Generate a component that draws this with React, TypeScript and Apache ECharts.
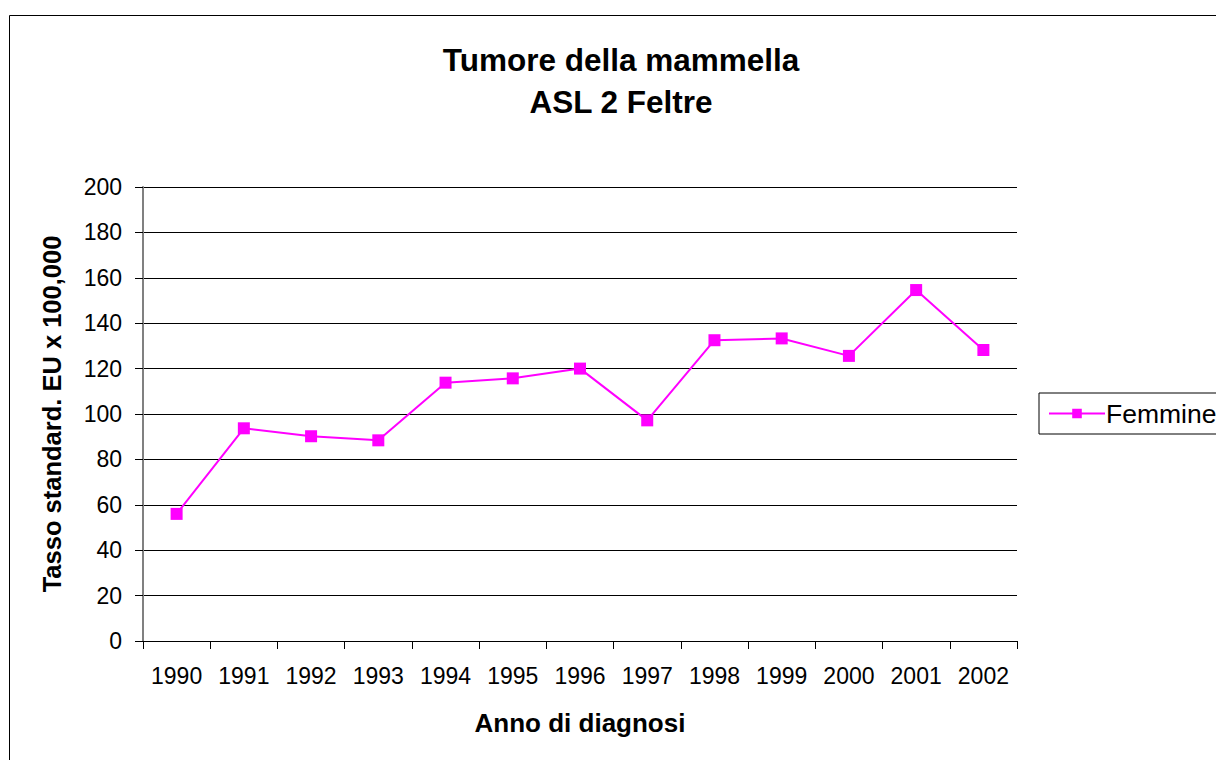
import React, { useEffect, useRef } from "react";
import * as echarts from "echarts";

const years = ["1990", "1991", "1992", "1993", "1994", "1995", "1996", "1997", "1998", "1999", "2000", "2001", "2002"];
const femmine = [56, 93.7, 90.2, 88.4, 113.8, 115.7, 120, 97.2, 132.5, 133.3, 125.6, 154.6, 128.2];
const titleLines = ["Tumore della mammella", "ASL 2 Feltre"];
const seriesName = "Femmine";
const yAxisName = "Tasso standard. EU x 100,000";
const xAxisName = "Anno di diagnosi";

const FONT = "Arial, 'Liberation Sans', sans-serif";

export default function App() {
  const ref = useRef<HTMLDivElement>(null);
  useEffect(() => {
    if (!ref.current) return;
    const chart = echarts.init(ref.current, null, { renderer: "svg" });
    chart.setOption({
      animation: false,
      backgroundColor: "#ffffff",
      textStyle: { fontFamily: FONT },
      title: {
        text: titleLines.join("\n"),
        left: 616,
        top: 34,
        textAlign: "center",
        textStyle: { fontFamily: FONT, fontSize: 31.5, fontWeight: "bold", color: "#000", lineHeight: 42 },
      },
      graphic: [
        {
          type: "rect",
          shape: { x: 9.5, y: 15.5, width: 1230, height: 780 },
          style: { fill: "none", stroke: "#000", lineWidth: 1 },
          silent: true,
        },
      ],
      legend: {
        left: 1039,
        top: 393,
        orient: "vertical",
        itemWidth: 56,
        itemHeight: 12,
        itemGap: 0,
        padding: [7, 40, 7, 9],
        borderColor: "#000",
        borderWidth: 1,
        textStyle: { fontFamily: FONT, fontSize: 26.5, color: "#000", padding: [0, 0, 0, -4] },
        data: [{ name: seriesName }],
      },
      grid: { left: 143, right: 199, top: 187, bottom: 119, containLabel: false },
      xAxis: {
        type: "category",
        data: years,
        boundaryGap: true,
        name: xAxisName,
        nameLocation: "middle",
        nameGap: 69,
        nameTextStyle: { fontFamily: FONT, fontSize: 26, fontWeight: "bold", color: "#000" },
        axisLine: { lineStyle: { color: "#000", width: 1 } },
        axisTick: { show: true, length: 8, lineStyle: { color: "#000" }, alignWithLabel: false },
        axisLabel: { fontFamily: FONT, fontSize: 23, color: "#000", margin: 23 },
        splitLine: { show: false },
      },
      yAxis: {
        type: "value",
        min: 0,
        max: 200,
        interval: 20,
        name: yAxisName,
        nameLocation: "middle",
        nameGap: 78,
        nameRotate: 90,
        nameTextStyle: { fontFamily: FONT, fontSize: 25.5, fontWeight: "bold", color: "#000" },
        axisLine: { show: true, lineStyle: { color: "#808080", width: 2 } },
        axisTick: { show: true, length: 8, lineStyle: { color: "#000" } },
        axisLabel: { fontFamily: FONT, fontSize: 23, color: "#000", margin: 21 },
        splitLine: { show: true, lineStyle: { color: "#000", width: 1 } },
      },
      series: [
        {
          name: seriesName,
          type: "line",
          data: femmine,
          symbol: "rect",
          symbolSize: 12,
          itemStyle: { color: "#FF00FF" },
          lineStyle: { color: "#FF00FF", width: 2 },
        },
      ],
    });
    return () => chart.dispose();
  }, []);
  return (
    <div
      ref={ref}
      style={{ position: "fixed", left: 0, top: 0, width: 1216, height: 760 }}
    />
  );
}
